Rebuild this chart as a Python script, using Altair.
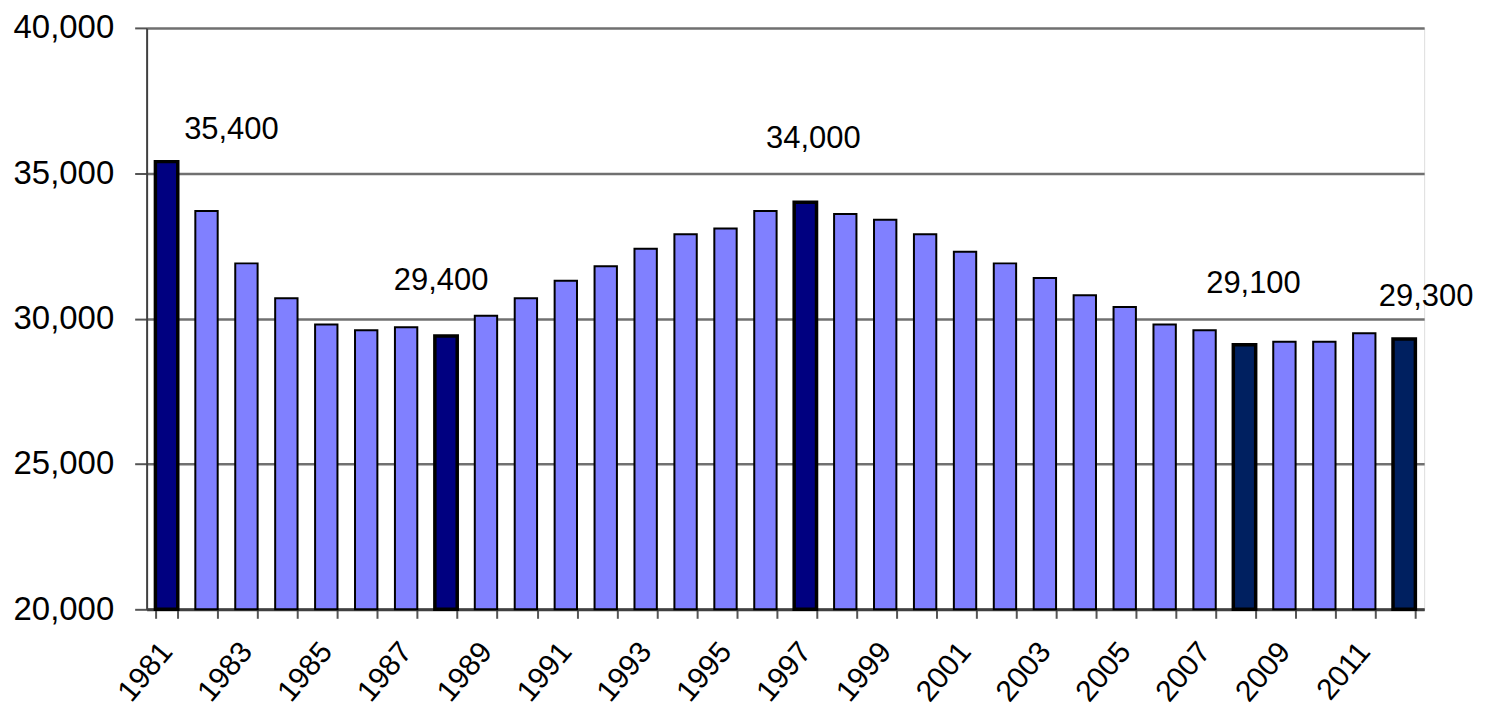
import altair as alt
import pandas as pd

years = list(range(1981, 2013))
values = [35400, 33700, 31900, 30700, 29800, 29600, 29700, 29400, 30100, 30700,
          31300, 31800, 32400, 32900, 33100, 33700, 34000, 33600, 33400, 32900,
          32300, 31900, 31400, 30800, 30400, 29800, 29600, 29100, 29200, 29200,
          29500, 29300]
navy_years = [1981, 1988, 1997]
dark_years = [2008, 2012]
label_years = [1981, 1988, 1997, 2008, 2012]
label_texts = ["35,400", "29,400", "34,000", "29,100", "29,300"]

def group(y):
    if y in navy_years:
        return "navy"
    if y in dark_years:
        return "dark"
    return "normal"

df = pd.DataFrame({
    "year": [str(y) for y in years],
    "value": values,
    "group": [group(y) for y in years],
})

FONT = "Liberation Sans"

x_enc = alt.X(
    "year:O",
    sort=None,
    title=None,
    scale=alt.Scale(paddingInner=0.44, paddingOuter=0.22),
    axis=alt.Axis(
        labelExpr="parseInt(datum.value) % 2 == 1 ? datum.value : ''",
        labelAngle=-50,
        labelFontSize=30,
        labelFont=FONT,
        labelColor="#000000",
        labelPadding=28,
        tickBand="extent",
        tickColor="#555555",
        tickSize=9,
        tickWidth=2,
        domainColor="#404040",
        domainWidth=3,
        grid=False,
    ),
)
y_enc = alt.Y(
    "value:Q",
    title=None,
    scale=alt.Scale(domain=[20000, 40000], nice=False, zero=False),
    axis=alt.Axis(
        values=[20000, 25000, 30000, 35000, 40000],
        format=",d",
        labelFontSize=33,
        labelFont=FONT,
        labelColor="#000000",
        labelPadding=21,
        tickSize=12,
        tickColor="#555555",
        tickWidth=2,
        domainColor="#404040",
        domainWidth=2,
        grid=True,
        gridColor="#707070",
        gridWidth=2.5,
    ),
)

bars = alt.Chart(df).mark_bar(stroke="#000000").encode(
    x=x_enc,
    y=y_enc,
    y2=alt.datum(20000),
    color=alt.Color(
        "group:N",
        scale=alt.Scale(domain=["normal", "navy", "dark"],
                        range=["#8080FF", "#000080", "#002060"]),
        legend=None,
    ),
    strokeWidth=alt.condition(
        "datum.group == 'normal'", alt.value(2), alt.value(3.5)
    ),
)

offsets = [(65, -32), (-5, -55), (8, -63), (9, -61), (22, -42)]
layers = [bars]
for yr, txt, (dx, dy) in zip(label_years, label_texts, offsets):
    sub = df[df["year"] == str(yr)].assign(label=txt)
    layers.append(
        alt.Chart(sub).mark_text(
            font=FONT, fontSize=31, color="#000000", dx=dx, dy=dy,
            baseline="middle", align="center",
        ).encode(x=alt.X("year:O", sort=None), y="value:Q", text="label:N")
    )

chart = alt.layer(*layers).properties(
    width=1281, height=583,
    padding={"left": 5, "top": 3, "right": 5, "bottom": 0},
).configure_view(
    stroke="#888888", strokeWidth=3
).configure(background="#ffffff")

chart.save("out.html", embed_options={"renderer": "svg", "actions": False})
